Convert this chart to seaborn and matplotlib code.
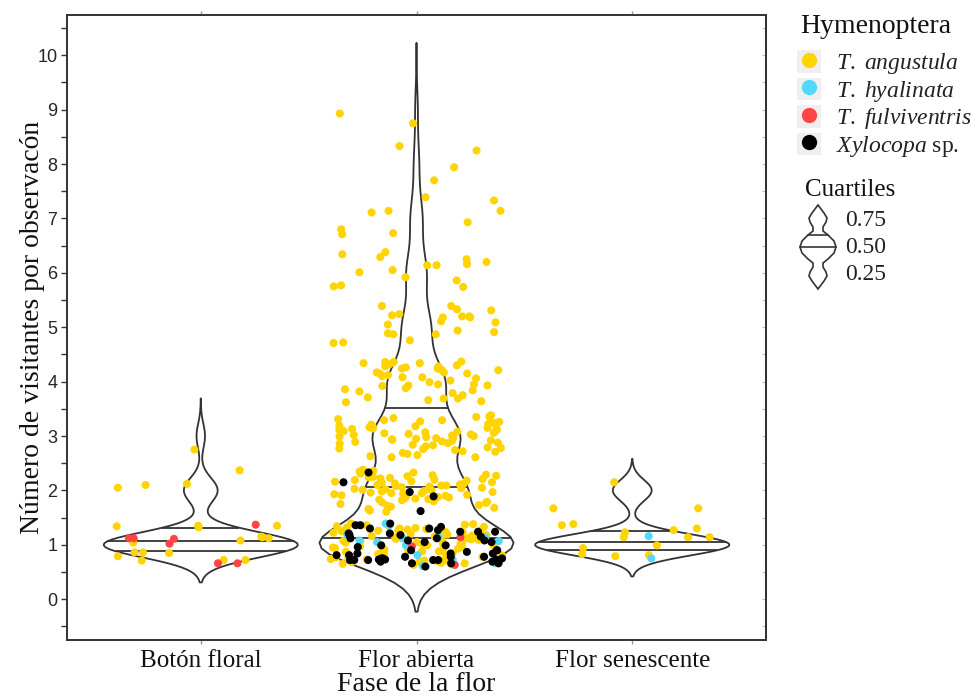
import numpy as np
import pandas as pd
import matplotlib
matplotlib.use("Agg")
import matplotlib.pyplot as plt
from matplotlib.lines import Line2D
from matplotlib.patches import Rectangle, Polygon
from matplotlib.legend_handler import HandlerLine2D
import seaborn as sns

# ---------------------------------------------------------------- data
phases = ["Botón floral", "Flor abierta", "Flor senescente"]
species = ["T. angustula", "T. hyalinata", "T. fulviventris", "Xylocopa sp."]
species_labels = [r"$\it{T.\ angustula}$", r"$\it{T.\ hyalinata}$",
                  r"$\it{T.\ fulviventris}$", r"$\it{Xylocopa}$ sp."]
species_colors = ["#FFD400", "#55D8FF", "#FF4444", "#000000"]
y_ticks = list(range(0, 11))
quartile_labels = ["0.75", "0.50", "0.25"]

# visitors per observation (jittered display values)
boton_angustula = [2.10, 2.05, 2.75, 2.37, 2.12, 1.35, 1.34, 1.32, 1.35, 1.15,
                   1.08, 1.04, 1.12, 1.14, 0.86, 0.72, 0.79, 0.86, 0.85, 0.71,
                   0.72]
boton_fulviventris = [1.37, 1.11, 1.02, 1.12, 1.12, 0.66, 0.66]

abierta_angustula = [
    8.93, 8.75,
    8.33, 8.25, 7.94, 7.70,
    7.39, 7.33, 7.14, 7.14, 7.11, 6.93, 6.80, 6.73, 6.71,
    6.38, 6.34, 6.29, 6.25, 6.20, 6.16, 6.14, 6.14, 6.05, 6.01,
    5.92, 5.86, 5.77, 5.75, 5.74,
    5.39, 5.39, 5.33, 5.31, 5.24, 5.22, 5.20, 5.20, 5.18, 5.18,
    5.11, 5.09, 5.05, 4.94, 4.91, 4.89, 4.87, 4.87, 4.76, 4.72, 4.71,
    4.37, 3.93, 4.24, 3.69, 4.08, 4.36, 3.82, 4.15, 3.95, 4.30,
    3.64, 4.21, 4.02, 4.34, 3.75, 4.12, 3.88, 4.28, 3.66, 4.17,
    3.99, 4.36, 3.71, 4.06, 3.92, 4.26, 3.62, 4.10, 3.86, 4.32,
    3.79, 4.21, 3.95, 4.17, 3.69, 4.28, 3.84, 4.08, 3.93, 4.24,
    4.15, 4.34,
    3.36, 2.74, 3.18, 2.95, 3.29, 2.67, 3.07, 2.88, 3.25, 2.61,
    3.13, 2.98, 3.33, 2.79, 3.05, 2.92, 3.21, 2.69, 3.10, 2.83,
    3.38, 2.76, 3.16, 2.97, 3.27, 2.65, 3.02, 2.89, 3.24, 2.71,
    3.12, 2.94, 3.31, 2.81, 3.08, 2.90, 3.19, 2.63, 3.01, 2.86,
    3.35, 2.78, 3.14, 2.99, 3.26, 2.72, 3.04, 2.84, 3.22, 2.61,
    3.11, 2.96, 3.29, 2.87, 3.06, 2.93, 3.17, 2.77, 3.00, 3.09,
    3.24, 2.91, 3.15, 3.03,
    2.38, 2.31, 2.27, 2.22, 2.18, 2.35, 2.14, 2.09, 2.25, 2.11,
    2.05, 2.02, 1.98, 2.16, 1.94, 1.91, 2.07, 1.87, 1.84, 2.20,
    1.80, 1.77, 1.95, 1.73, 1.70, 2.03, 1.66, 1.92, 1.63, 2.12,
    2.29, 1.99, 2.19, 1.88, 2.08, 1.79, 2.24, 1.96, 2.33, 1.85,
    2.01, 2.13, 1.90, 2.17, 1.75, 2.06, 1.82, 2.26, 1.93, 2.10,
    1.68, 2.21, 1.97, 2.04, 1.86, 2.15, 1.78, 2.28, 2.00, 1.89,
    2.36, 1.72, 2.09, 1.83, 2.23, 1.95, 1.61,
    1.38, 0.71, 1.22, 0.93, 1.05, 0.66, 1.31, 0.84, 1.14, 0.97,
    1.26, 0.63, 1.09, 0.79, 1.35, 0.88, 1.19, 0.75, 1.02, 1.29,
    0.69, 1.11, 0.91, 1.33, 0.81, 1.06, 0.73, 1.24, 0.96, 1.17,
    0.86, 1.36, 0.65, 1.13, 0.99, 1.27, 0.77, 1.04, 0.89, 1.21,
    0.68, 1.32, 0.94, 1.08, 0.82, 1.16, 0.72, 1.39, 1.01, 0.87,
    1.25, 0.76, 1.12, 0.92, 1.30, 0.64, 1.07, 0.83, 1.18, 0.98,
    1.34, 0.74, 1.23, 0.90, 1.03, 0.67, 1.28, 0.85, 1.15, 0.95,
    1.20, 0.78, 1.37, 1.00, 0.70, 1.10, 0.80, 1.26, 0.88, 1.12,
]
abierta_hyalinata = [1.39, 1.08, 1.05, 0.99, 1.18, 1.15, 1.14, 1.36, 0.66, 1.12,
                     0.61, 1.07, 0.72, 0.81]
abierta_fulviventris = [1.14, 0.97, 0.63]
abierta_xylocopa = [
    2.33, 2.15, 1.89, 1.62, 1.97,
    1.12, 1.05, 1.18, 0.90, 0.73, 0.73, 0.69, 0.73, 0.66, 1.24,
    1.36, 1.24, 1.12, 0.99, 0.72, 0.81, 0.87, 1.33, 1.21, 0.72,
    0.69, 0.66, 1.30, 0.75, 0.60, 1.36, 1.24, 1.08, 1.18, 1.30,
    0.84, 0.78, 0.72, 1.05, 0.90, 0.72, 0.78, 0.66, 0.75, 1.39,
    0.72, 0.84, 1.27, 1.15, 0.84, 0.81, 1.21, 1.08, 0.90, 0.78,
    0.75, 0.96, 0.99,
]

senescente_angustula = [2.15, 1.67, 1.67, 1.30, 1.36, 1.14, 1.23, 1.27, 1.14, 1.38,
                        1.14, 0.99, 0.94, 0.81, 0.83, 0.79]
senescente_hyalinata = [1.16, 0.75]

groups = [
    (phases[0], species[0], boton_angustula),
    (phases[0], species[2], boton_fulviventris),
    (phases[1], species[0], abierta_angustula),
    (phases[1], species[1], abierta_hyalinata),
    (phases[1], species[2], abierta_fulviventris),
    (phases[1], species[3], abierta_xylocopa),
    (phases[2], species[0], senescente_angustula),
    (phases[2], species[1], senescente_hyalinata),
]
df = pd.DataFrame(
    [(ph, sp, v) for ph, sp, vals in groups for v in vals],
    columns=["fase", "especie", "visitantes"],
)
# whole number of visitors recorded per observation
df["conteo"] = df["visitantes"].round()

# ---------------------------------------------------------------- style
sns.set_style("ticks")
plt.rcParams["font.family"] = ["Liberation Serif", "DejaVu Serif"]
plt.rcParams["mathtext.fontset"] = "custom"
plt.rcParams["mathtext.rm"] = "Liberation Serif"
plt.rcParams["mathtext.it"] = "Liberation Serif:italic"

INK = "#333333"
W, H = 974, 698

fig = plt.figure(figsize=(W / 100, H / 100), dpi=100)
ax = fig.add_axes([67 / W, 1 - 640 / H, (766 - 67) / W, (640 - 15) / H])


def nrd0_factor(values):
    """Bandwidth factor equivalent to R's bw.nrd0 for a scipy-style KDE."""
    v = np.asarray(values, float)
    sd = v.std(ddof=1)
    q25, q75 = np.percentile(v, [25, 75])
    lo = min(sd, (q75 - q25) / 1.34) or sd
    return 0.9 * lo * len(v) ** -0.2 / sd


def density_quartiles(poly, pos):
    """Quartile segments taken from the violin's own density outline."""
    verts = poly.get_paths()[0].vertices
    ys = verts[:, 1]
    hw = np.abs(verts[:, 0] - pos)
    uy, inv = np.unique(ys, return_inverse=True)
    w = np.zeros_like(uy)
    np.maximum.at(w, inv, hw)
    cum = np.concatenate([[0], np.cumsum(0.5 * (w[1:] + w[:-1]) * np.diff(uy))])
    cum /= cum[-1]
    q = np.interp([0.25, 0.5, 0.75], cum, uy)
    wq = np.interp(q, uy, w)
    ax.hlines(q, pos - wq, pos + wq, color=INK, linewidth=1.3, zorder=2)


for i, ph in enumerate(phases):
    sub = df[df["fase"] == ph]
    n0 = len(ax.collections)
    sns.violinplot(
        data=sub, x="fase", y="conteo", order=phases,
        inner=None, fill=False, color=INK, linewidth=1.3,
        cut=3, bw_method=nrd0_factor(sub["conteo"]),
        density_norm="width", width=0.9, ax=ax,
    )
    density_quartiles(ax.collections[n0], i)

np.random.seed(11)  # reproducible horizontal jitter
sns.stripplot(
    data=df, x="fase", y="visitantes", hue="especie",
    order=phases, hue_order=species, palette=species_colors,
    jitter=0.4, size=5.8, linewidth=0, ax=ax, legend=False, zorder=3,
)

# ---------------------------------------------------------------- axes
ax.set_xlim(-0.62, 2.62)
ax.set_ylim(-0.75, 10.74)
ax.set_yticks(y_ticks)
ax.set_yticks(np.arange(-0.5, 10.75, 0.5), minor=True)
ax.set_yticklabels([str(t) for t in y_ticks], family="Liberation Sans",
                   fontsize=13, color="#262626")
ax.set_xticks(range(len(phases)))
ax.set_xticklabels(phases, fontsize=18, color="#111111")
ax.tick_params(axis="y", which="both", direction="out", length=4,
               width=1.0, color=INK, pad=3)
ax.tick_params(axis="y", which="minor", labelleft=False)
ax.tick_params(axis="x", direction="out", length=3, width=1.0,
               color="#999999", pad=4, top=True)
for side in ["left", "right", "top", "bottom"]:
    ax.spines[side].set_color(INK)
    ax.spines[side].set_linewidth(1.4)

right = ax.secondary_yaxis("right")
right.set_yticks(np.arange(-0.5, 10.75, 0.5))
right.tick_params(direction="in", length=3, color="#bbbbbb", labelright=False)
right.spines["right"].set_color(INK)
right.spines["right"].set_linewidth(1.4)

ax.set_xlabel("Fase de la flor", fontsize=20, color="#111111", labelpad=0)
ax.set_ylabel("Número de visitantes por observacón", fontsize=20,
              color="#111111")
ax.yaxis.set_label_coords(-0.031, 0.5)


# ---------------------------------------------------------------- legends
class GreyKey(HandlerLine2D):
    def create_artists(self, legend, orig_handle, xdescent, ydescent,
                       width, height, fontsize, trans):
        bg = Rectangle((-xdescent, -ydescent), width, height,
                       facecolor="#EFEFEF", edgecolor="none", transform=trans)
        arts = super().create_artists(legend, orig_handle, xdescent, ydescent,
                                      width, height, fontsize, trans)
        return [bg] + list(arts)


fig.text(800 / W, 1 - 33 / H, "Hymenoptera", fontsize=20, va="baseline",
         color="#111111")
handles = [Line2D([], [], marker="o", linestyle="none", markersize=11,
                  markerfacecolor=c, markeredgecolor="none")
           for c in species_colors]
leg = fig.legend(
    handles, species_labels, loc="upper left",
    bbox_to_anchor=(797 / W, 1 - 50 / H), frameon=False,
    prop={"family": "Liberation Serif", "size": 17},
    handlelength=1.0, handleheight=1.1, handletextpad=0.65,
    labelspacing=0.05, borderpad=0, borderaxespad=0,
    handler_map={Line2D: GreyKey()},
)
for t in leg.get_texts():
    t.set_color("#222222")

fig.text(805 / W, 1 - 190 / H, "Cuartiles", fontsize=18, va="center",
         color="#111111")
gax = fig.add_axes([788 / W, 1 - 300 / H, 62 / W, 100 / H])
gax.set_xlim(788, 850)
gax.set_ylim(300, 200)
gax.axis("off")
cx, cy = 818, 247
d = np.linspace(-42, 42, 169)
half = np.interp(np.abs(d), [0, 6, 12, 16, 20, 25, 29, 34, 38, 42],
                 [18, 16, 10, 5, 5, 8, 9, 6, 3, 0])
outline = np.column_stack([np.concatenate([cx - half, (cx + half)[::-1]]),
                           np.concatenate([cy + d, (cy + d)[::-1]])])
gax.add_patch(Polygon(outline, closed=True, facecolor="none",
                      edgecolor=INK, linewidth=1.2))
for yy in (cy - 12, cy):
    hw = np.interp(abs(yy - cy), np.abs(d[84:]), half[84:])
    gax.plot([cx - hw, cx + hw], [yy, yy], color=INK, linewidth=1.2)
for lbl, yy in zip(quartile_labels, (220, 247, 275)):
    fig.text(845 / W, 1 - yy / H, lbl, fontsize=17, va="center",
             color="#222222")

fig.savefig("out.png", dpi=100)
